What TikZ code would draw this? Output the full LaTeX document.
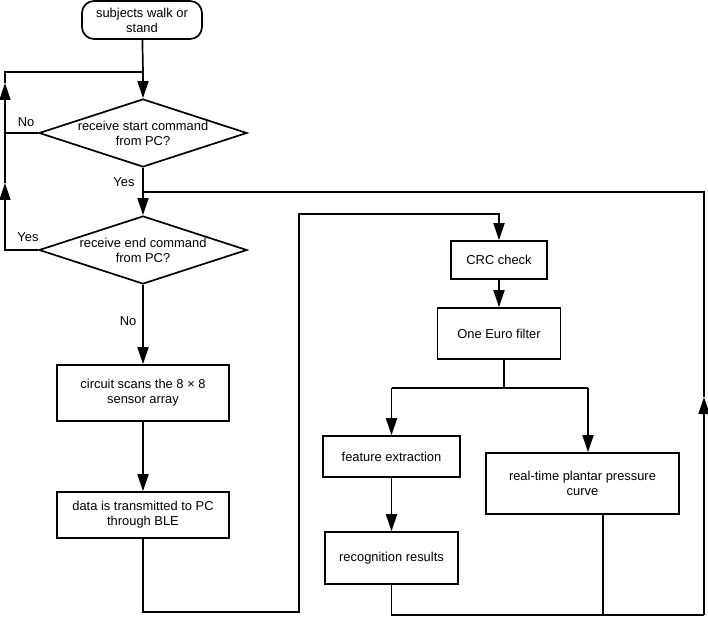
\documentclass[tikz,border=0pt]{standalone}
\usepackage{fontspec}
\setmainfont{Liberation Sans}
\usetikzlibrary{shapes.geometric}
\usetikzlibrary{arrows.meta}

\begin{document}
\begin{tikzpicture}[x=1pt, y=-1pt, line width=1.7pt,
  font=\fontsize{12.9}{15}\selectfont,
  >={Triangle[length=17pt,width=11pt]},
  box/.style={draw, align=center, inner sep=0pt},
  decision/.style={draw, diamond, aspect=3, inner sep=0pt, minimum width=208, minimum height=68, align=center}]
\useasboundingbox (0,0) rectangle (708,617);
\node[box, rounded corners=12, minimum width=120, minimum height=38] (start) at (142,20) {subjects walk or\\stand};
\node[decision] (dec1) at (143,133) {receive start command\\from PC?};
\node[decision] (dec2) at (143,250) {receive end command\\from PC?};
\node[box, minimum width=172, minimum height=56] (scan) at (143,393) {circuit scans the 8 × 8\\sensor array};
\node[box, minimum width=172, minimum height=46] (ble) at (143,515) {data is transmitted to PC\\through BLE};
\node[box, minimum width=96, minimum height=38] (crc) at (499,260) {CRC check};
\node[box, minimum width=123, minimum height=51] (euro) at (499,333.5) {One Euro filter};
\node[box, minimum width=137, minimum height=41] (feat) at (391.5,456.5) {feature extraction};
\node[box, minimum width=133, minimum height=52] (recog) at (391.5,558) {recognition results};
\node[box, minimum width=193, minimum height=61] (curve) at (582.5,483.5) {real-time plantar pressure\\curve};
\node (no1) at (26,122) {No};
\node (yes1) at (124,182) {Yes};
\node (yes2) at (28,237) {Yes};
\node (no2) at (128,321) {No};
\coordinate (join) at (143,72);
\coordinate (lefttop) at (5,72);
\coordinate (leftmid) at (5,133);
\coordinate (leftbot) at (5,250);
\coordinate (uptipA) at (5,83);
\coordinate (uptipB) at (5,183);
\coordinate (fork) at (143,192);
\coordinate (righttop) at (704,192);
\coordinate (uptipC) at (704,397);
\coordinate (rightbot) at (704,615);
\coordinate (curvefoot) at (603,615);
\coordinate (loopBL) at (143,612);
\coordinate (loopBR) at (299,612);
\coordinate (loopTR) at (299,214);
\coordinate (split) at (504,388);
\coordinate (splitR) at (588,388);
\draw (start) -- (join);
\draw[->] (join) -- (dec1);
\draw (dec1.west) -- (leftmid);
\draw[->] (dec2.west) -- (leftbot) -- (uptipB);
\draw[->] (uptipB) -- (uptipA);
\draw (uptipA) -- (lefttop) -- (join);
\draw[->] (dec1) -- (dec2);
\draw[->] (dec2) -- (scan);
\draw[->] (scan) -- (ble);
\draw[->] (ble) -- (loopBL) -- (loopBR) -- (loopTR) -- (crc |- loopTR) -- (crc);
\draw[->] (crc) -- (euro);
\draw (euro.south -| split) -- (split);
\draw (split -| feat) -- (splitR);
\draw[->] (split -| feat) -- (feat);
\draw[->] (splitR) -- (splitR |- curve.north);
\draw[->] (feat) -- (recog);
\draw (recog) -- (recog |- rightbot) -- (rightbot);
\draw (curve.south -| curvefoot) -- (curvefoot);
\draw[->] (rightbot) -- (uptipC);
\draw (uptipC) -- (righttop) -- (fork);
\end{tikzpicture}
\end{document}
